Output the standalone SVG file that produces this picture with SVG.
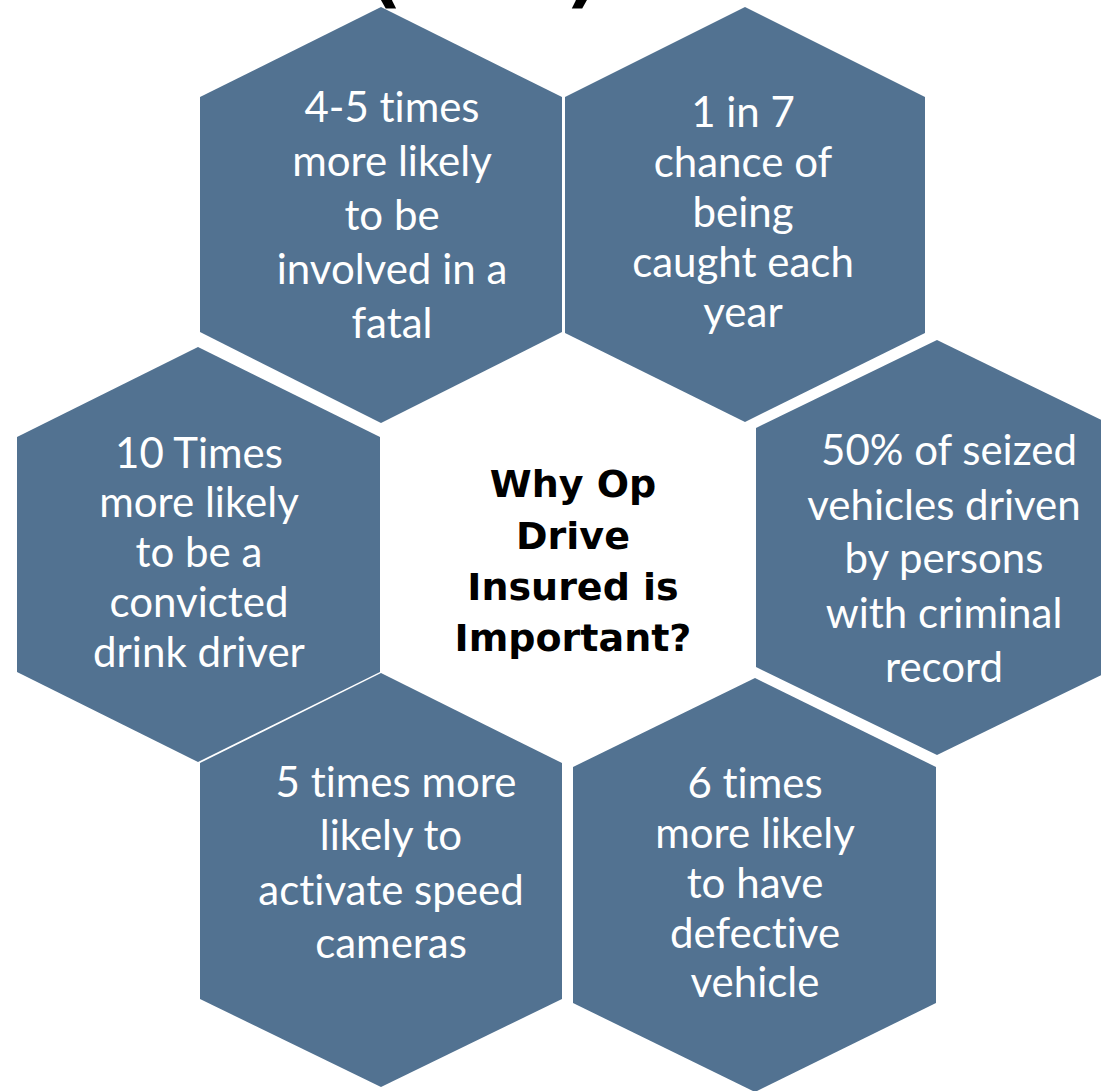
<svg xmlns="http://www.w3.org/2000/svg" width="1101" height="1091" viewBox="0 0 1101 1091">
<style>
.hex{fill:#527291;}
.t{font-family:Lato,"Open Sans","Liberation Sans",sans-serif;font-size:42px;fill:#ffffff;text-anchor:middle;font-variant-ligatures:none;}
.c{font-family:"DejaVu Sans","Liberation Sans",sans-serif;font-weight:bold;font-size:38px;fill:#000000;text-anchor:middle;}
.p{font-family:"DejaVu Sans","Liberation Sans",sans-serif;font-weight:bold;font-size:72px;fill:#000000;}
</style>
<rect width="1101" height="1091" fill="#ffffff"/>
<g id="title-fragments">
<text class="p" x="369" y="-1">(</text>
<text class="p" x="566" y="-1">)</text>
</g>
<g id="connectors"></g>
<g id="hex-fatal">
<polygon class="hex" points="381,7 562,97 562,332 381,423 200,332 200,97"/>
<text class="t" x="392" y="122">4-5 times</text>
<text class="t" x="392" y="176">more likely</text>
<text class="t" x="392" y="230">to be</text>
<text class="t" x="392" y="284">involved in a</text>
<text class="t" x="392" y="338">fatal</text>
</g>
<g id="hex-caught">
<polygon class="hex" points="745,7 925,97 925,333 745,422 565,333 565,97"/>
<text class="t" x="743" y="127">1 in 7</text>
<text class="t" x="743" y="177">chance of</text>
<text class="t" x="743" y="227">being</text>
<text class="t" x="743" y="277">caught each</text>
<text class="t" x="743" y="327">year</text>
</g>
<g id="hex-drink">
<polygon class="hex" points="198,347 380,437 380,672 198,762 17,672 17,437"/>
<text class="t" x="199" y="468">10 Times</text>
<text class="t" x="199" y="517">more likely</text>
<text class="t" x="199" y="567">to be a</text>
<text class="t" x="199" y="617">convicted</text>
<text class="t" x="199" y="667">drink driver</text>
</g>
<g id="hex-criminal">
<polygon class="hex" points="937,340 1118,428 1118,667 937,755 756,667 756,428"/>
<text class="t" x="949" y="465">50% of seized</text>
<text class="t" x="944" y="520">vehicles driven</text>
<text class="t" x="944" y="573">by persons</text>
<text class="t" x="944" y="628">with criminal</text>
<text class="t" x="944" y="682">record</text>
</g>
<g id="hex-cameras">
<polygon class="hex" points="381,673 562,763 562,999 381,1087 200,999 200,763"/>
<text class="t" x="396" y="797">5 times more</text>
<text class="t" x="391" y="850">likely to</text>
<text class="t" x="391" y="905">activate speed</text>
<text class="t" x="391" y="958">cameras</text>
</g>
<g id="hex-defective">
<polygon class="hex" points="755,678 936,767 936,1003 755,1092 573,1003 573,767"/>
<text class="t" x="755" y="798">6 times</text>
<text class="t" x="755" y="848">more likely</text>
<text class="t" x="755" y="898">to have</text>
<text class="t" x="755" y="948">defective</text>
<text class="t" x="755" y="997">vehicle</text>
</g>
<g id="center">
<text class="c" x="573" y="497">Why Op</text>
<text class="c" x="573" y="549">Drive</text>
<text class="c" x="573" y="600">Insured is</text>
<text class="c" x="573" y="651">Important?</text>
</g>
</svg>
